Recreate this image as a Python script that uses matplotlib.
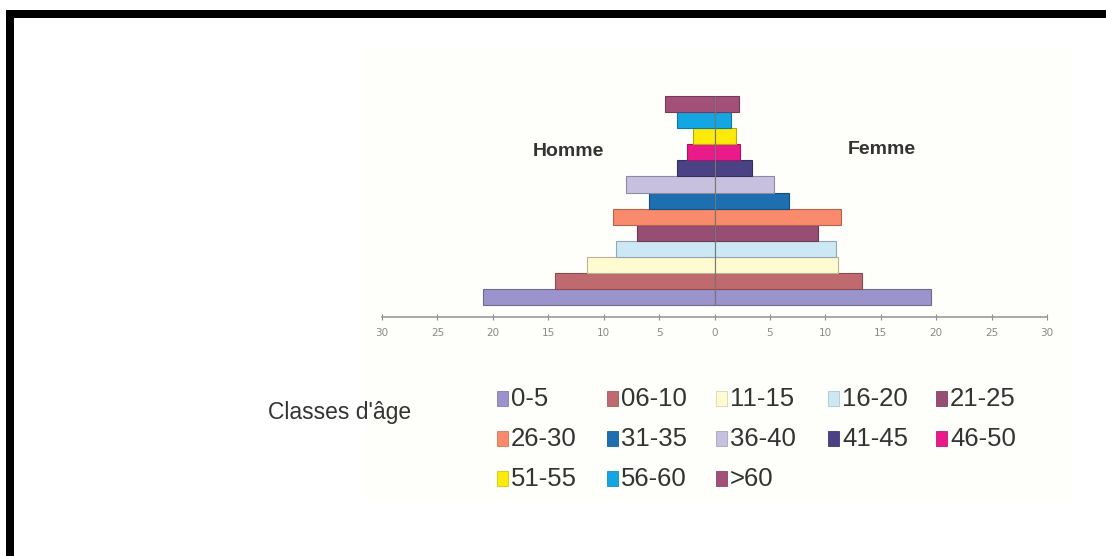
import matplotlib
matplotlib.use("Agg")
import matplotlib.pyplot as plt
from matplotlib.patches import Rectangle
from matplotlib.colors import to_rgb

# age classes, bottom to top
ages = ["0-5", "06-10", "11-15", "16-20", "21-25", "26-30", "31-35",
        "36-40", "41-45", "46-50", "51-55", "56-60", ">60"]
hommes = [20.9, 14.4, 11.5, 8.9, 7.0, 9.2, 5.9, 8.0, 3.4, 2.5, 1.9, 3.4, 4.5]
femmes = [19.5, 13.3, 11.1, 11.0, 9.3, 11.4, 6.7, 5.35, 3.4, 2.3, 1.95, 1.45, 2.2]
colors = ["#9b93cc", "#bf6a6e", "#fffbd0", "#cde8f5", "#974e72", "#f98a6c",
          "#1d6fb0", "#c8c0df", "#4a4284", "#ea1a8a", "#fcea0a", "#14a6e2",
          "#a25078"]
ticks = [-30, -25, -20, -15, -10, -5, 0, 5, 10, 15, 20, 25, 30]

W, H = 1106, 556
fig = plt.figure(figsize=(W / 100, H / 100), dpi=100)
fig.patch.set_facecolor("white")

def px(x0, y0, w, h):
    # pixel box (top-left origin) -> figure fraction
    return (x0 / W, 1 - (y0 + h) / H, w / W, h / H)

# faint background of the pasted picture
bx, by, bw, bh = px(365, 48, 707, 452)
fig.add_artist(Rectangle((bx, by), bw, bh, transform=fig.transFigure,
                         facecolor="#fefefb", edgecolor="none", zorder=0))

# black frame (top and left)
for box in [px(6, 10, 1100, 8), px(6, 10, 8, 546)]:
    fig.add_artist(Rectangle(box[:2], box[2], box[3], transform=fig.transFigure,
                             facecolor="black", edgecolor="none", zorder=5))

ax = fig.add_axes(px(382, 88, 665, 229))
ax.patch.set_alpha(0)

def darker(c, f=0.72):
    r, g, b = to_rgb(c)
    return (r * f, g * f, b * f)

ypos = list(range(len(ages)))
edges = [darker(c) for c in colors]
ax.barh(ypos, [-v for v in hommes], height=1, color=colors, edgecolor=edges, linewidth=0.8)
ax.barh(ypos, femmes, height=1, color=colors, edgecolor=edges, linewidth=0.8)
ax.vlines(0, -0.5, len(ages) - 0.5, color="#777777", linewidth=0.8)

ax.set_xlim(-30, 30)
ax.set_ylim(-1.24, 13)
ax.set_xticks(ticks)
ax.set_xticklabels([str(abs(t)) for t in ticks])
ax.set_yticks([])
for s in ["left", "right", "top"]:
    ax.spines[s].set_visible(False)
ax.spines["bottom"].set_color("#9a9a9a")
ax.spines["bottom"].set_linewidth(1.2)
ax.tick_params(axis="x", direction="inout", length=4, width=0.8, color="#8a8a8a",
               labelsize=7.5, labelcolor="#8a8a8a", pad=6)

fig.text(568 / W, 1 - 151 / H, "Homme", ha="center", va="center",
         fontsize=14, fontweight="bold", family="Liberation Sans", color="#333333")
fig.text(882 / W, 1 - 149 / H, "Femme", ha="center", va="center",
         fontsize=14, fontweight="bold", family="Liberation Sans", color="#333333")

# legend
fig.text(268 / W, 1 - 413 / H, "Classes d'âge", ha="left", va="center",
         fontsize=16.5, family="Liberation Sans", color="#333333")
col_x = [503, 613, 722, 834, 942]
row_y = [398, 438, 478]
for i, (lab, c) in enumerate(zip(ages, colors)):
    x0 = col_x[i % 5]
    y0 = row_y[i // 5]
    b = px(x0 - 6, y0 - 7, 11, 15)
    fig.add_artist(Rectangle(b[:2], b[2], b[3], transform=fig.transFigure,
                             facecolor=c, edgecolor=darker(c, 0.85), linewidth=0.6))
    fig.text((x0 + 8) / W, 1 - (y0 + 1) / H, lab, ha="left", va="center",
             fontsize=18.5, family="Liberation Sans", color="#333333")

fig.savefig("out.png", dpi=100)
